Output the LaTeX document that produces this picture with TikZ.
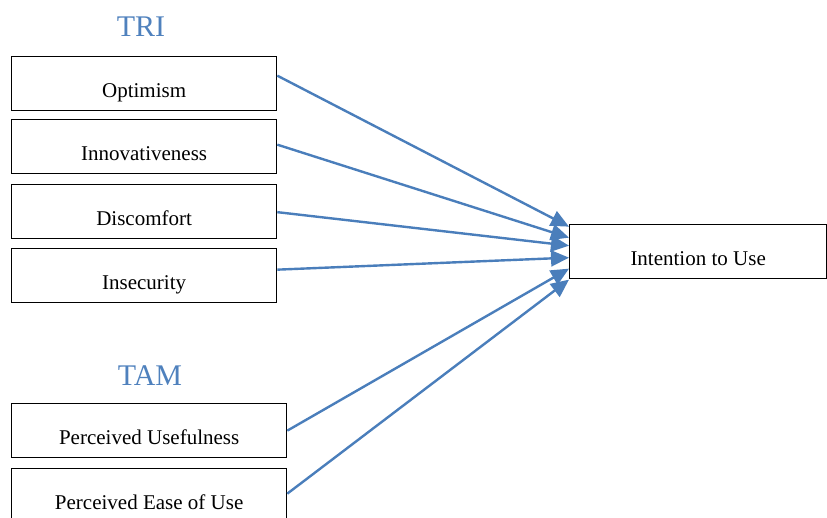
\documentclass[tikz,border=0pt]{standalone}
\usepackage{fontspec}
\setmainfont{Liberation Serif}
\newfontfamily\boxfont{Liberation Serif}
\usetikzlibrary{arrows.meta}
\definecolor{lineblue}{HTML}{4A7EBB}
\definecolor{titleblue}{HTML}{4F81BD}
\tikzset{
  factor/.style={draw=black, line width=1.3pt, rectangle, inner sep=0pt,
    text height=41pt, text depth=13pt, anchor=north west,
    font=\boxfont\fontsize{21}{25}\selectfont},
  tribox/.style={factor, minimum width=265pt},
  tambox/.style={factor, minimum width=275pt},
  grouptitle/.style={text=titleblue, anchor=base, inner sep=0pt,
    font=\boxfont\fontsize{30}{34}\selectfont},
  link/.style={draw=lineblue, line width=2.4pt,
    -{Triangle[length=18pt,width=16pt]}}
}
\begin{document}
\begin{tikzpicture}[x=1pt,y=-1pt]
\useasboundingbox (0,0) rectangle (827,517);
\node[grouptitle] (tri) at (141,36) {TRI};
\node[grouptitle] (tam) at (150,385) {TAM};
\node[tribox] (opt) at (11,56) {Optimism};
\node[tribox] (inn) at (11,119) {Innovativeness};
\node[tribox] (dis) at (11,184) {Discomfort};
\node[tribox] (ins) at (11,248) {Insecurity};
\node[tambox] (pu) at (11,403) {Perceived Usefulness};
\node[tambox] (peou) at (11,468) {Perceived Ease of Use};
\node[factor, minimum width=257pt] (itu) at (569,224) {Intention to Use};
\draw[link] ([yshift=8pt]opt.east) -- ([yshift=25pt]itu.west);
\draw[link] ([yshift=2pt]inn.east) -- ([yshift=14pt]itu.west);
\draw[link] ([yshift=-0.5pt]dis.east) -- ([yshift=6pt]itu.west);
\draw[link] ([yshift=6pt]ins.east) -- ([yshift=-6pt]itu.west);
\draw[link] (pu.east) -- ([yshift=-17pt]itu.west);
\draw[link] ([yshift=2pt]peou.east) -- ([yshift=-28pt]itu.west);
\end{tikzpicture}
\end{document}
